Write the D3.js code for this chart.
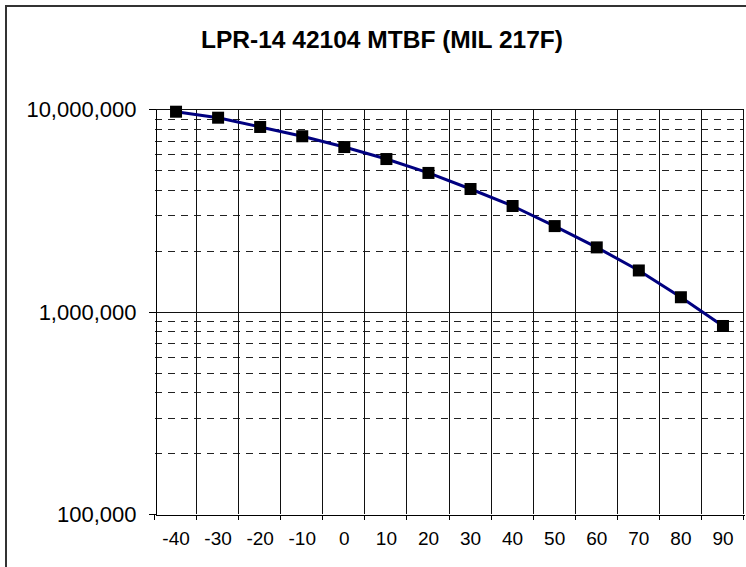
<!DOCTYPE html>
<html>
<head>
<meta charset="utf-8">
<script src="https://cdn.jsdelivr.net/npm/d3@7"></script>
<style>
  html, body { margin: 0; padding: 0; background: #fff; }
  svg { display: block; }
  text { font-family: "Liberation Sans", Arial, sans-serif; fill: #000; }
</style>
</head>
<body>
<svg id="chart" width="746" height="567"></svg>
<script>
// Temperature categories (°C)
const temperatures = [-40, -30, -20, -10, 0, 10, 20, 30, 40, 50, 60, 70, 80, 90];
// MTBF in hours per MIL-HDBK-217F
const mtbfHours = [9730000, 9090000, 8180000, 7360000, 6510000, 5680000, 4850000,
                   4040000, 3330000, 2650000, 2080000, 1600000, 1180000, 851000];
// Labelled decades on the log axis
const yTickValues = [100000, 1000000, 10000000];
// Dashed minor gridlines inside each decade
const yMinorValues = [200000, 300000, 400000, 500000, 600000, 700000, 800000, 900000,
                      2000000, 3000000, 4000000, 5000000, 6000000, 7000000, 8000000, 9000000];
const chartTitle = "LPR-14 42104 MTBF (MIL 217F)";

const svg = d3.select("#chart");
const plot = { left: 155, right: 744, top: 109.3, bottom: 514.3 };

// Chart area frame
svg.append("rect")
  .attr("x", 6).attr("y", 6)
  .attr("width", 800).attr("height", 620)
  .attr("fill", "#fff")
  .attr("stroke", "#333").attr("stroke-width", 2);

const x = d3.scaleBand()
  .domain(temperatures)
  .range([plot.left, plot.right])
  .padding(0);

const y = d3.scaleLog()
  .domain([1e5, 1e7])
  .range([plot.bottom, plot.top]);

// Title
svg.append("text")
  .attr("x", 382).attr("y", 48)
  .attr("text-anchor", "middle")
  .attr("font-size", 23)
  .attr("font-weight", "bold")
  .attr("textLength", 362)
  .attr("lengthAdjust", "spacingAndGlyphs")
  .text(chartTitle);

const grid = svg.append("g").attr("shape-rendering", "crispEdges");

// Minor horizontal gridlines (dashed)
grid.selectAll("line.minor")
  .data(yMinorValues)
  .join("line")
  .attr("class", "minor")
  .attr("x1", plot.left).attr("x2", plot.right)
  .attr("y1", d => Math.round(y(d)) + 0.5)
  .attr("y2", d => Math.round(y(d)) + 0.5)
  .attr("stroke", "#222")
  .attr("stroke-dasharray", "7,6");

// Major horizontal gridlines
grid.selectAll("line.major")
  .data(yTickValues.slice(1))
  .join("line")
  .attr("class", "major")
  .attr("x1", plot.left).attr("x2", plot.right)
  .attr("y1", d => Math.round(y(d)) + 0.5)
  .attr("y2", d => Math.round(y(d)) + 0.5)
  .attr("stroke", "#111");

// Vertical gridlines on the category boundaries
const boundaries = temperatures.map(t => x(t)).concat([plot.right]);
grid.selectAll("line.vgrid")
  .data(boundaries.slice(1))
  .join("line")
  .attr("class", "vgrid")
  .attr("x1", d => Math.round(d) - 0.5).attr("x2", d => Math.round(d) - 0.5)
  .attr("y1", plot.top).attr("y2", plot.bottom)
  .attr("stroke", "#111");

// Category axis: tick marks between categories, labels centred
const xAxis = svg.append("g")
  .attr("transform", `translate(0,${Math.round(plot.bottom) + 0.5})`)
  .call(d3.axisBottom(x).tickSize(0).tickPadding(17))
  .call(g => g.select(".domain").attr("stroke", "#000").attr("shape-rendering", "crispEdges"));
xAxis.selectAll("text")
  .attr("font-size", 19)
  .attr("font-family", "Liberation Sans, Arial, sans-serif");
xAxis.selectAll("line.btick")
  .data(boundaries)
  .join("line")
  .attr("class", "btick")
  .attr("x1", d => Math.round(d) - 0.5).attr("x2", d => Math.round(d) - 0.5)
  .attr("y1", 0).attr("y2", 5)
  .attr("stroke", "#000")
  .attr("shape-rendering", "crispEdges");

// Value axis (log)
const yAxis = svg.append("g")
  .attr("transform", `translate(${plot.left + 0.5},0)`)
  .call(d3.axisLeft(y)
    .tickValues(yTickValues)
    .tickFormat(d3.format(","))
    .tickSize(7)
    .tickSizeOuter(0)
    .tickPadding(12))
  .call(g => g.selectAll("line, .domain").attr("stroke", "#000").attr("shape-rendering", "crispEdges"));
yAxis.selectAll("text")
  .attr("font-size", 22)
  .attr("font-family", "Liberation Sans, Arial, sans-serif")
  .attr("dy", "0.34em");

// MTBF series
const points = temperatures.map((t, i) => ({ t, v: mtbfHours[i] }));
const cx = d => x(d.t) + x.bandwidth() / 2;

svg.append("path")
  .datum(points)
  .attr("fill", "none")
  .attr("stroke", "#000080")
  .attr("stroke-width", 3)
  .attr("stroke-linejoin", "round")
  .attr("d", d3.line().x(cx).y(d => y(d.v)));

svg.selectAll("rect.marker")
  .data(points)
  .join("rect")
  .attr("class", "marker")
  .attr("x", d => cx(d) - 6)
  .attr("y", d => y(d.v) - 6)
  .attr("width", 12).attr("height", 12)
  .attr("fill", "#000");
</script>
</body>
</html>
